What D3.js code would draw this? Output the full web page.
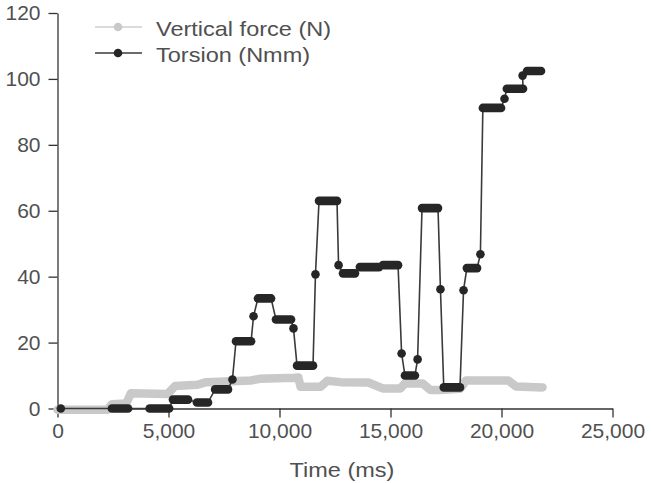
<!DOCTYPE html>
<html><head><meta charset="utf-8">
<script src="https://cdn.jsdelivr.net/npm/d3@7"></script>
<style>
body{margin:0;background:#fff;}
text{font-family:"Liberation Sans",Arial,sans-serif;}
</style></head>
<body><svg id="c" width="652" height="483"></svg>
<script>
// Vertical force (N): time (ms), value
const forceTime  = [0, 2250, 2450, 3100, 3300, 4950, 5300, 6300, 6700, 8700, 9100, 10700, 10850, 10950, 11850, 12150, 12750, 14000, 14650, 15450, 15650, 16450, 16800, 17200, 18150, 18400, 20300, 20650, 21850];
const forceValue = [-0.4, -0.4, 1.3, 1.5, 4.6, 4.4, 6.8, 7.2, 8.0, 8.5, 9.0, 9.3, 9.4, 6.6, 6.6, 8.4, 8.0, 7.9, 6.1, 6.1, 7.6, 7.6, 5.6, 5.6, 6.0, 8.5, 8.5, 6.7, 6.4];

// Torsion (Nmm): plateaus (start time, end time, value)
const torsionStart = [150, 2450, 4150, 5200, 6280, 7100, 7880, 8040, 8830, 9030, 9840, 10630, 10790, 11620, 11780, 12660, 12860, 13620, 14660, 15500, 15650, 16220, 16420, 17250, 17400, 18290, 18440, 19050, 19160, 20135, 20240, 20950, 21150];
const torsionEnd   = [150, 3180, 5030, 5880, 6780, 7680, 7880, 8720, 8830, 9620, 10520, 10630, 11510, 11620, 12590, 12660, 13400, 14480, 15340, 15500, 16100, 16220, 17140, 17250, 18130, 18290, 18900, 19050, 19980, 20135, 20970, 20950, 21780];
const torsionValue = [0, 0, 0, 2.7, 1.8, 5.8, 8.8, 20.4, 28, 33.4, 27, 24.3, 13, 40.7, 63, 43.5, 41, 42.9, 43.5, 16.7, 10, 14.9, 60.8, 36.2, 6.4, 35.9, 42.6, 46.8, 91.2, 94, 97, 101, 102.4];

const xTicks = [0, 5000, 10000, 15000, 20000, 25000];
const yTicks = [0, 20, 40, 60, 80, 100, 120];
const seriesNames = ["Vertical force (N)", "Torsion (Nmm)"];

const svg = d3.select("#c");
const x = d3.scaleLinear().domain([0, 25000]).range([57.5, 612.5]);
const y = d3.scaleLinear().domain([0, 120]).range([408.5, 13]);

const axisCol = "#333", textCol = "#505050";
const FS = 21;
const STRETCH = 1.12;

// axes
const gx = svg.append("g").attr("transform", "translate(0,408.5)")
  .call(d3.axisBottom(x).tickValues(xTicks).tickSize(9).tickPadding(6).tickSizeOuter(0).tickFormat(d3.format(",")));
const gy = svg.append("g").attr("transform", "translate(57.5,0)")
  .call(d3.axisLeft(y).tickValues(yTicks).tickSize(9).tickPadding(8).tickSizeOuter(0));
[gx, gy].forEach(g => {
  g.select(".domain").attr("stroke", axisCol).attr("stroke-width", 1.3);
  g.selectAll(".tick line").attr("stroke", axisCol).attr("stroke-width", 1.3);
  g.selectAll(".tick text").attr("fill", textCol).style("font-size", FS + "px")
   .style("font-family", "'Liberation Sans', Arial, sans-serif");
});

// axis title
svg.append("text").attr("transform", `translate(342,477) scale(${STRETCH},1)`).attr("text-anchor", "middle")
  .attr("fill", textCol).style("font-size", FS + "px").text("Time (ms)");

// vertical force line
const forcePts = forceTime.map((t, i) => [t, forceValue[i]]);
svg.append("path").datum(forcePts)
  .attr("d", d3.line().x(d => x(d[0])).y(d => y(d[1])))
  .attr("fill", "none").attr("stroke", "#c9c9c9").attr("stroke-width", 8.5)
  .attr("stroke-linejoin", "round").attr("stroke-linecap", "round");

// torsion
const tPts = [];
torsionStart.forEach((s, i) => { tPts.push([s, torsionValue[i]]); if (torsionEnd[i] !== s) tPts.push([torsionEnd[i], torsionValue[i]]); });
const black = "#262626";
svg.append("path").datum(tPts)
  .attr("d", d3.line().x(d => x(d[0])).y(d => y(d[1])))
  .attr("fill", "none").attr("stroke", "#3a3a3a").attr("stroke-width", 1.6);
const plateaus = torsionStart.map((s, i) => ({s, e: torsionEnd[i], v: torsionValue[i]}));
svg.append("g").selectAll("line").data(plateaus).join("line")
  .attr("x1", d => x(d.s)).attr("x2", d => x(d.e) + 0.01)
  .attr("y1", d => y(d.v)).attr("y2", d => y(d.v))
  .attr("stroke", black).attr("stroke-width", 8.6).attr("stroke-linecap", "round");

// legend
const leg = svg.append("g");
const legCols = ["#c9c9c9", black];
const legLineCols = ["#cfcfcf", "#3a3a3a"];
seriesNames.forEach((n, i) => {
  const ly = 27 + i * 26;
  leg.append("line").attr("x1", 95).attr("x2", 142).attr("y1", ly).attr("y2", ly)
    .attr("stroke", legLineCols[i]).attr("stroke-width", 1.6);
  leg.append("circle").attr("cx", 118).attr("cy", ly).attr("r", 4.3).attr("fill", legCols[i]);
  leg.append("text").attr("transform", `translate(156,${ly + 8.5}) scale(${STRETCH},1)`).attr("fill", textCol)
    .style("font-size", FS + "px").text(n);
});
</script></body></html>
